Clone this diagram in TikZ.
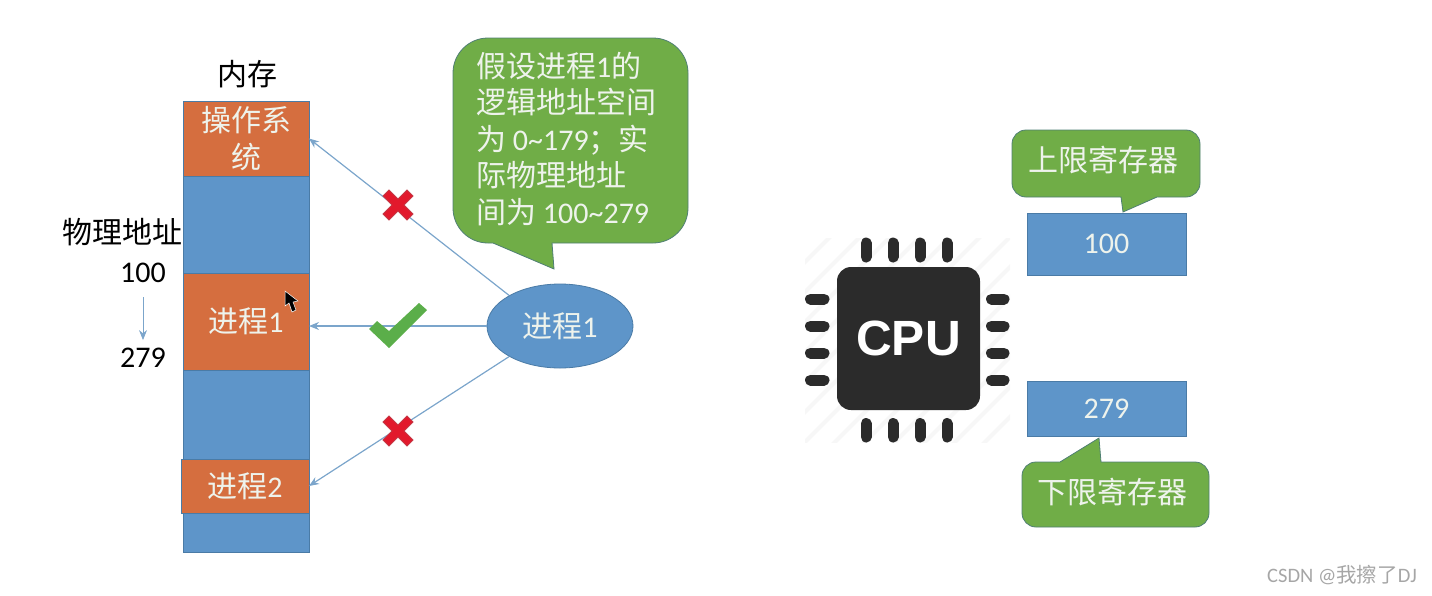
\documentclass[tikz,border=0pt]{standalone}
\usepackage{fontspec}
\usetikzlibrary{arrows.meta,shapes.geometric}
\setmainfont{Carlito}
\newfontfamily\cjk{Noto Sans CJK SC}
\newfontfamily\armfont{Liberation Sans}
\definecolor{blockblue}{HTML}{5E95C9}
\definecolor{blockorange}{HTML}{D56E3F}
\definecolor{bubblegreen}{HTML}{70AD47}
\definecolor{bubbleedge}{HTML}{4F7F73}
\definecolor{edgeblue}{HTML}{4A7BA6}
\definecolor{linkblue}{HTML}{7BA5CB}
\definecolor{crossred}{HTML}{E2192C}
\definecolor{checkgreen}{HTML}{5BAE4A}
\definecolor{chipdark}{HTML}{2B2B2B}
\definecolor{softwhite}{HTML}{EEF3EC}
\tikzset{
    x={1pt},
    y={-1pt},
    big text/.style={
        font={\fontsize{30}{36.5}\selectfont},
    },
    mem block/.style={
        draw=edgeblue,
        fill={#1},
        line width={0.7pt},
        minimum width={126},
        text=softwhite,
        align=center,
        inner sep=0pt,
        outer sep=0pt,
        big text,
    },
    mem block/.default={blockblue},
    reg block/.style={
        draw=edgeblue,
        fill=blockblue,
        line width={0.7pt},
        minimum width={159},
        text=softwhite,
        inner sep=0pt,
        outer sep=0pt,
        big text,
    },
    bubble/.style={
        fill=bubblegreen,
        draw=bubbleedge,
        line width={0.8pt},
    },
    bubble text/.style={
        text=softwhite,
        inner sep=0pt,
        big text,
    },
    plain text/.style={
        text=black,
        inner sep=0pt,
        big text,
    },
    link/.style={
        draw=linkblue,
        line width={1.2pt},
        -{Stealth[length=10pt,width=8pt]},
    },
    cross mark/.pic={
        \path[fill=crossred, draw=crossred!70!gray, line width={0.8pt}]
            (0,-6) -- (9,-15) -- (15,-9) -- (6,0) -- (15,9) -- (9,15) -- (0,6)
            -- (-9,15) -- (-15,9) -- (-6,0) -- (-15,-9) -- (-9,-15) -- cycle;
    },
    chip pin/.style={
        draw=chipdark,
        line width={11pt},
        line cap=round,
    },
}
\begin{document}
\begin{tikzpicture}
\useasboundingbox (0,0) rectangle (1432,595);
% memory
\node[mem block, minimum height={97}] (gapa) at (246,224.5) {};
\node[mem block={blockorange}, minimum height={97}] (procmema) at (246,321.5) {\raisebox{1pt}{{\cjk 进程}1}};
\node[mem block, minimum height={90}] (gapb) at (246,415) {};
\node[mem block, minimum height={39}] (gapc) at (246,532.5) {};
\node[mem block={blockorange}, minimum height={54}, minimum width={128}] (procmemb) at (245,486) {{\cjk 进程}2};
\node[mem block={blockorange}, minimum height={75}] (kernel) at (246,138.5) {{\cjk 操作系}\\{\cjk 统}};
% labels
\node[plain text] (memlabel) at (247,74) {\cjk 内存};
\node[plain text] (addrlabel) at (122,232) {\cjk 物理地址};
\node[plain text] (addrlow) at (143,273) {100};
\node[plain text] (addrhigh) at (143,358) {279};
\draw[link, line width={0.8pt}, shorten <=14pt, shorten >=8pt] (addrlow) -- (addrhigh);
% cursor
\path[fill=black, draw=white, line width={0.5pt}] (285,291) -- (285,306) -- (289,303) -- (292,312) -- (296,310) -- (293,302) -- (298,301) -- cycle;
% process
\node[ellipse, draw=edgeblue, fill=blockblue, line width={0.8pt}, minimum width={146}, minimum height={84}, inner sep=0pt, text=softwhite, big text] (procone) at (560,326) {\raisebox{2pt}{{\cjk 进程}1}};
\coordinate (kerneltip) at (kernel.east);
\coordinate (procatip) at (309,326);
\coordinate (procbtip) at (procmemb.east);
\draw[link] (procone.149) -- (kerneltip);
\draw[link] (procone.west) -- (procatip);
\draw[link] (procone.211) -- (procbtip);
\pic at (398,205) {cross mark};
\pic at (398,431) {cross mark};
\path[fill=checkgreen] (369,329) -- (377,321) -- (389,331) -- (419,303) -- (427,310) -- (389,348) -- cycle;
% bubbles
\path[bubble] (570,38) [rounded corners={35pt}] -- (688,38) -- (688,243) [sharp corners] -- (552,243) -- (554,269) -- (493,243) [rounded corners={35pt}] -- (453,243) -- (453,38) -- cycle;
\node[bubble text, anchor=west, align=left] (bubblea) at (476,139) {{\cjk 假设进程}1{\cjk 的}\\{\cjk 逻辑地址空间}\\{\cjk 为} 0\textasciitilde179{\cjk ；实}\\{\cjk 际物理地址}\\{\cjk 间为} 100\textasciitilde279};
\path[bubble] (1100,130) [rounded corners={14pt}] -- (1200,130) -- (1200,197) [sharp corners] -- (1157,197) -- (1123,212) -- (1121,197) [rounded corners={14pt}] -- (1012,197) -- (1012,130) -- cycle;
\node[bubble text] (bubbleb) at (1103,160.5) {\cjk 上限寄存器};
\path[bubble] (1110,462) [rounded corners={14pt}] -- (1209,462) -- (1209,527) -- (1022,527) -- (1022,462) [sharp corners] -- (1060,462) -- (1099,438) -- (1101,462) -- cycle;
\node[bubble text] (bubblec) at (1112,492.5) {\cjk 下限寄存器};
% registers
\node[reg block, minimum height={62}] (regupper) at (1106.5,244) {100};
\node[reg block, minimum height={55}] (reglower) at (1106.5,408.5) {279};
% cpu
\begin{scope}
\clip (805,238) rectangle (1010,442);
\foreach \off in {-180,-150,...,180} {
    \draw[gray!6, line width={4pt}] (907+\off-110,340+110) -- (907+\off+110,340-110);
}
\end{scope}
\foreach \px in {866,893,920,947} {
    \draw[chip pin] (\px,243) -- (\px,257);
    \draw[chip pin] (\px,423.5) -- (\px,437);
}
\foreach \py in {299,326,353,380} {
    \draw[chip pin] (810.5,\py) -- (824,\py);
    \draw[chip pin] (991.5,\py) -- (1004,\py);
}
\node[fill=chipdark, rounded corners={14pt}, minimum width={143}, minimum height={143}, inner sep=0pt, text=white, font={\armfont\bfseries\fontsize{49.5}{60}\selectfont}] (chip) at (908.5,338.5) {CPU};
% watermark
\node[text=gray!70, inner sep=0pt, font={\fontsize{20.5}{24}\selectfont}] (mark) at (1342,575) {CSDN @{\cjk 我擦了}DJ};
\end{tikzpicture}
\end{document}
